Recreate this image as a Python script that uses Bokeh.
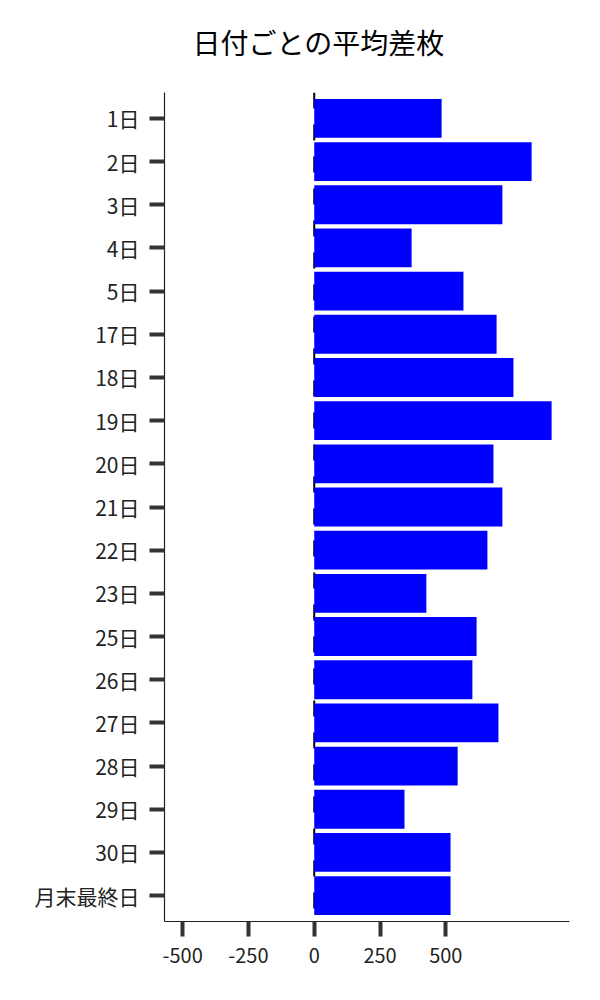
from bokeh.plotting import figure
from bokeh.models import FactorRange, Range1d, FixedTicker, Span, ColumnDataSource, NumeralTickFormatter, Title
from bokeh.embed import file_html
from bokeh.resources import INLINE

days = ["1日", "2日", "3日", "4日", "5日", "17日", "18日", "19日", "20日", "21日",
        "22日", "23日", "25日", "26日", "27日", "28日", "29日", "30日", "月末最終日"]
avg_diff = [484, 826, 715, 370, 567, 693, 757, 902, 681, 715,
            658, 426, 617, 601, 700, 545, 343, 518, 518]
x_ticks = [-500, -250, 0, 250, 500]
title_text = "日付ごとの平均差枚"

FONT = "Noto Sans CJK JP"

src = ColumnDataSource(dict(day=days, val=avg_diff))

p = figure(
    width=588, height=988,
    y_range=FactorRange(factors=list(reversed(days)), range_padding=0.1, range_padding_units="absolute"),
    x_range=Range1d(-569, 970),
    output_backend="svg", toolbar_location=None,
    min_border_left=164, min_border_right=19, min_border_top=92, min_border_bottom=67,
    title=title_text,
)

# empty spacer panel between the title and the plot frame
p.add_layout(Title(text=" ", text_font_size="1px", standoff=28), "above")

p.add_layout(Span(location=0, dimension="height", line_color="black", line_width=2,
                  line_dash="16 16", level="underlay"))

p.hbar(y="day", left=0, right="val", height=0.9, source=src,
       fill_color="#0000FF", line_color=None)

p.title.text_font = FONT
p.title.text_font_size = "28px"
p.title.text_font_style = "normal"
p.title.text_color = "black"
p.title.align = "left"
p.title.offset = 28
p.title.standoff = 0

p.outline_line_color = None
p.xgrid.visible = False
p.ygrid.visible = False
p.background_fill_color = "white"
p.border_fill_color = "white"

for ax in (p.xaxis[0], p.yaxis[0]):
    ax.axis_line_color = "#222222"
    ax.axis_line_width = 1.2
    ax.major_tick_line_color = "#333333"
    ax.major_tick_line_width = 4
    ax.major_tick_out = 15
    ax.major_tick_in = 0
    ax.minor_tick_line_color = None
    ax.major_label_text_font = FONT
    ax.major_label_text_font_size = "20px"
    ax.major_label_text_color = "#222222"

p.yaxis[0].major_label_text_font_size = "21px"
p.xaxis[0].ticker = FixedTicker(ticks=x_ticks)
p.xaxis[0].formatter = NumeralTickFormatter(format="0")
p.xaxis[0].major_label_standoff = 11
p.yaxis[0].major_label_standoff = 10

open("out.html", "w").write(file_html(p, INLINE))
